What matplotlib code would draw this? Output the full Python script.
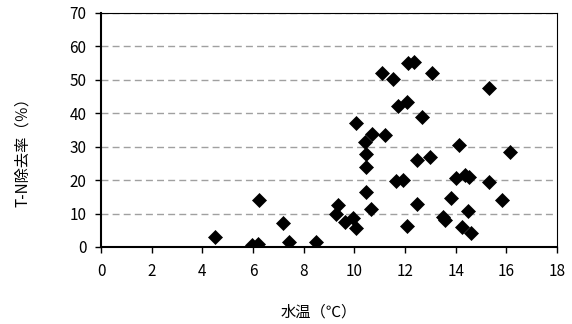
import numpy as np
import matplotlib.pyplot as plt

# water temperature (deg C) and T-N removal rate (%)
water_temp = [4.5, 5.95, 6.2, 6.25, 7.2, 7.42, 8.5, 9.37, 9.28, 9.62, 9.96, 10.08,
              10.07, 10.42, 10.46, 10.46, 10.46, 10.65, 10.71, 11.21, 11.1, 11.51,
              11.74, 12.08, 12.1, 12.36, 13.05, 12.66, 11.66, 11.94, 12.07, 12.46,
              12.46, 13.0, 13.5, 13.58, 13.82, 14.0, 14.15, 14.37, 14.54, 14.26,
              14.6, 14.47, 15.3, 15.31, 15.82, 16.15]
tn_removal = [2.9, 0.5, 0.9, 14.2, 7.1, 1.6, 1.6, 12.7, 10.0, 7.6, 8.6, 5.7,
              37.2, 31.5, 27.8, 24.0, 16.5, 11.3, 33.9, 33.4, 52.1, 50.3,
              42.2, 43.3, 55.0, 55.4, 52.0, 38.8, 19.7, 20.0, 6.3, 25.9,
              12.9, 27.0, 9.1, 8.1, 14.6, 20.5, 30.4, 21.4, 20.9, 6.0,
              4.3, 10.9, 19.5, 47.5, 14.1, 28.4]

x_ticks = np.arange(0, 19, 2)
y_ticks = np.arange(0, 71, 10)

plt.rcParams['font.family'] = ['Noto Sans CJK JP', 'DejaVu Sans']

fig = plt.figure(figsize=(5.72, 3.24), dpi=100)
ax = fig.add_axes([0.1766, 0.2377, 0.7972, 0.7223])

ax.plot(water_temp, tn_removal, linestyle='none', marker='D', markersize=7,
        color='black', markeredgewidth=0.5, zorder=3)

ax.set_xlim(0, 18)
ax.set_ylim(0, 70)
ax.set_xticks(x_ticks)
ax.set_yticks(y_ticks)

# dashed horizontal gridlines only
ax.yaxis.grid(True, color='#a0a0a0', linestyle=(0, (5, 3)), linewidth=1.0)
ax.set_axisbelow(True)

for side in ['left', 'bottom']:
    ax.spines[side].set_linewidth(1.5)
    ax.spines[side].set_color('black')
for side in ['top', 'right']:
    ax.spines[side].set_linewidth(0.8)
    ax.spines[side].set_color('black')

ax.tick_params(axis='both', direction='out', length=4.5, width=1.0,
               labelsize=11, color='black')
ax.tick_params(axis='x', pad=7)
ax.tick_params(axis='y', pad=6)

fig.text(23 / 572, 1 - 148 / 324, 'T-N除去率（％）', rotation=90,
         ha='center', va='center', fontsize=11)
fig.text(319 / 572, 1 - 312 / 324, '水温（℃）', ha='center', va='center',
         fontsize=11)

fig.savefig('out.png', dpi=100)
